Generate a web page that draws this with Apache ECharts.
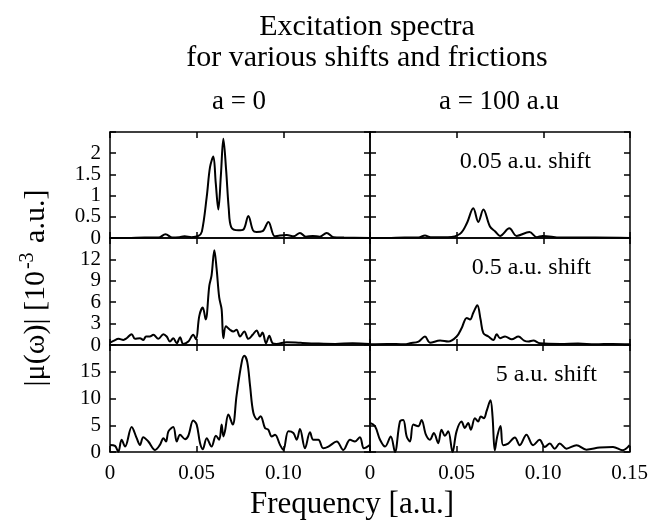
<!DOCTYPE html>
<html>
<head>
<meta charset="utf-8">
<script src="https://cdn.jsdelivr.net/npm/echarts@6/dist/echarts.min.js"></script>
<style>
  html, body { margin: 0; padding: 0; background: #fff; }
  #chart { width: 651px; height: 522px; }
</style>
</head>
<body>
<div id="chart"></div>
<script>
// a = 0, 0.05 a.u. shift
const freqA0S005 = [0, 0.01, 0.02, 0.028, 0.032, 0.036, 0.04, 0.043, 0.047, 0.051, 0.053, 0.0558, 0.0577, 0.0596, 0.061, 0.0625, 0.064, 0.0654, 0.067, 0.0685, 0.070, 0.074, 0.077, 0.0798, 0.0825, 0.0845, 0.088, 0.0914, 0.095, 0.098, 0.102, 0.106, 0.1096, 0.113, 0.117, 0.121, 0.125, 0.129, 0.135, 0.15];
const muA0S005 = [0, 0, 0.01, 0.01, 0.09, 0.01, 0.02, 0.04, 0.02, 0.05, 0.15, 0.97, 1.67, 1.92, 1.3, 0.67, 1.5, 2.34, 1.6, 0.7, 0.25, 0.18, 0.2, 0.52, 0.18, 0.14, 0.16, 0.38, 0.04, 0.06, 0.07, 0.04, 0.12, 0.03, 0.05, 0.03, 0.12, 0.02, 0.01, 0];

// a = 0, 0.5 a.u. shift
const freqA0S05 = [0, 0.002, 0.005, 0.0077, 0.0096, 0.0125, 0.0144, 0.0173, 0.0192, 0.0208, 0.023, 0.025, 0.0279, 0.0308, 0.0327, 0.0346, 0.0365, 0.0385, 0.0404, 0.0423, 0.0452, 0.048, 0.0496, 0.0515, 0.0535, 0.0552, 0.0573, 0.0586, 0.0602, 0.0615, 0.063, 0.0644, 0.0654, 0.0669, 0.0692, 0.0711, 0.073, 0.075, 0.0775, 0.0798, 0.0823, 0.0846, 0.0865, 0.088, 0.09, 0.0919, 0.0938, 0.096, 0.102, 0.11, 0.12, 0.13, 0.14, 0.15];
const muA0S05 = [0.33, 0.57, 0.86, 0.71, 0.95, 1.52, 0.86, 0.95, 0.71, 1.19, 1.19, 1.43, 0.86, 1.52, 1.19, 0.48, 0.95, 0.24, 1.1, 0.14, 0.48, 1.43, 0.8, 4.05, 5.24, 3.57, 8.33, 9.76, 13.3, 10.7, 6.67, 5, 0.95, 2.62, 2.14, 1.9, 2.14, 1.19, 1.9, 0.86, 1.43, 2.05, 1.19, 1.76, 0.24, 1.29, 0.24, 0.14, 0.4, 0.3, 0.2, 0.15, 0.25, 0.15];

// a = 0, 5 a.u. shift
const freqA0S5 = [0, 0.0029, 0.0048, 0.0067, 0.0087, 0.0125, 0.0154, 0.0173, 0.0192, 0.0221, 0.026, 0.0288, 0.0308, 0.0323, 0.0337, 0.0365, 0.0385, 0.0404, 0.0433, 0.0452, 0.048, 0.05, 0.0519, 0.0535, 0.0558, 0.0586, 0.0611, 0.063, 0.0644, 0.0654, 0.0663, 0.0683, 0.0708, 0.073, 0.076, 0.0775, 0.0792, 0.0808, 0.0827, 0.085, 0.0869, 0.0894, 0.0913, 0.0933, 0.0952, 0.0981, 0.1, 0.1029, 0.1058, 0.1077, 0.1096, 0.1125, 0.1154, 0.1173, 0.1202, 0.123, 0.126, 0.1308, 0.1346, 0.1385, 0.1413, 0.1442, 0.1465, 0.15];
const muA0S5 = [1.33, 1.14, 0.06, 2.28, 1.01, 4.68, 2.59, 1.33, 2.78, 1.96, 0.38, 1.33, 2.59, 1.96, 3.86, 4.68, 1.96, 3.23, 2.4, 3.04, 5.88, 5.12, 1.71, 0.51, 2.59, 1.01, 3.04, 2.28, 5.12, 2.91, 3.86, 7.02, 5.12, 10.5, 16.8, 17.97, 16.8, 12.4, 7.34, 6.07, 6.7, 4.5, 4.17, 2.91, 3.23, 1.33, 0.38, 3.86, 3.54, 2.28, 4.3, 0.7, 3.67, 2.28, 2.28, 0.7, 1.01, 1.96, 0.38, 2.28, 1.96, 2.78, 0.7, 1.33];

// a = 100 a.u, 0.05 a.u. shift
const freqA100S005 = [0, 0.01, 0.02, 0.028, 0.0317, 0.035, 0.045, 0.052, 0.0558, 0.0596, 0.0625, 0.0654, 0.0692, 0.0721, 0.075, 0.0804, 0.0846, 0.092, 0.0962, 0.0996, 0.11, 0.13, 0.15];
const muA100S005 = [0, 0, 0.01, 0.01, 0.06, 0.02, 0.02, 0.1, 0.34, 0.7, 0.38, 0.67, 0.27, 0.16, 0.05, 0.23, 0.05, 0.14, 0.02, 0.05, 0.01, 0.01, 0];

// a = 100 a.u, 0.5 a.u. shift
const freqA100S05 = [0, 0.01, 0.02, 0.0231, 0.028, 0.0317, 0.0346, 0.0404, 0.0452, 0.05, 0.0529, 0.0558, 0.0577, 0.0596, 0.0619, 0.0638, 0.0654, 0.0683, 0.0712, 0.0731, 0.075, 0.0779, 0.0818, 0.0856, 0.0889, 0.0914, 0.0942, 0.098, 0.11, 0.12, 0.13, 0.14, 0.15];
const muA100S05 = [0.1, 0.15, 0.1, 0.24, 0.48, 1.19, 0.33, 0.62, 0.48, 1.19, 2.38, 3.8, 3.57, 4.52, 5.57, 3.57, 1.67, 1.19, 0.71, 1.52, 0.95, 1.19, 0.81, 1.19, 0.62, 0.48, 0.62, 0.24, 0.15, 0.2, 0.1, 0.15, 0.1];

// a = 100 a.u, 5 a.u. shift
const freqA100S5 = [0, 0.0029, 0.0058, 0.0087, 0.012, 0.0144, 0.0173, 0.0192, 0.0212, 0.0231, 0.025, 0.0279, 0.0298, 0.0323, 0.0346, 0.0369, 0.0394, 0.0413, 0.0433, 0.0452, 0.0477, 0.05, 0.0529, 0.0548, 0.0567, 0.0583, 0.0606, 0.0625, 0.064, 0.0658, 0.0673, 0.0696, 0.0708, 0.0721, 0.0735, 0.0754, 0.0769, 0.0798, 0.0837, 0.0865, 0.0904, 0.0942, 0.098, 0.101, 0.1039, 0.1067, 0.1096, 0.1135, 0.1193, 0.125, 0.1327, 0.1404, 0.146, 0.15];
const muA100S5 = [5.44, 4.8, 2.28, 1.01, 2.91, 0, 5.69, 6.0, 2.91, 1.96, 5.12, 4.8, 6.0, 3.23, 2.28, 3.54, 1.64, 4.17, 3.04, 3.86, 0, 3.86, 5.69, 4.5, 5.44, 4.17, 6.32, 5.69, 6.64, 6.32, 7.59, 9.68, 6.64, 0.32, 2.91, 4.87, 1.27, 1.58, 2.72, 1.27, 3.23, 1.27, 2.28, 0.95, 1.58, 0.63, 1.58, 0.63, 1.27, 0.44, 0.82, 0.95, 0.32, 1.27];

const xTicks = [0, 0.05, 0.10, 0.15];
const yMax = [2.5, 15, 20];
const yStep = [0.5, 3, 5];
const shiftLabels = ['0.05 a.u. shift', '0.5 a.u. shift', '5 a.u. shift'];
const columnLabels = ['a = 0', 'a = 100 a.u'];

const panels = [
  [freqA0S005, muA0S005], [freqA100S005, muA100S005],
  [freqA0S05, muA0S05], [freqA100S05, muA100S05],
  [freqA0S5, muA0S5], [freqA100S5, muA100S5]
];

const FONT = 'Liberation Serif';
const gridLeft = [110, 370];
const gridTop = [132, 238, 345];
const gridHeight = [106, 107, 107];
const gridWidth = 260;

const lineStyle = { color: '#000', width: 1.5 };
const tickStyle = { inside: true, length: 6, lineStyle: { color: '#000', width: 1.5 } };

const grids = [], xAxes = [], yAxes = [], series = [];

panels.forEach((p, i) => {
  const row = Math.floor(i / 2), col = i % 2;
  grids.push({ left: gridLeft[col], top: gridTop[row], width: gridWidth, height: gridHeight[row] });

  const showX = row === 2;
  ['bottom', 'top'].forEach(pos => {
    xAxes.push({
      type: 'value', gridIndex: i, position: pos, min: 0, max: 0.15, interval: 0.05,
      axisLine: { show: true, onZero: false, lineStyle },
      axisTick: tickStyle,
      splitLine: { show: false },
      axisLabel: {
        show: pos === 'bottom' && showX,
        margin: 11, fontFamily: FONT, fontSize: 21, color: '#000',
        formatter: v => {
          if (col === 0 && v > 0.14) return '';
          const t = xTicks.find(k => Math.abs(k - v) < 1e-6);
          return t === 0 ? '0' : t.toFixed(2);
        }
      }
    });
  });

  ['left', 'right'].forEach(pos => {
    yAxes.push({
      type: 'value', gridIndex: i, position: pos, min: 0, max: yMax[row], interval: yStep[row],
      axisLine: { show: true, onZero: false, lineStyle },
      axisTick: tickStyle,
      splitLine: { show: false },
      axisLabel: {
        show: pos === 'left' && col === 0,
        margin: 9, fontFamily: FONT, fontSize: 21, color: '#000',
        formatter: v => (v >= yMax[row] - 1e-9 ? '' : String(v))
      }
    });
  });

  series.push({
    type: 'line',
    xAxisIndex: 2 * i, yAxisIndex: 2 * i,
    data: p[0].map((x, k) => [x, p[1][k]]),
    showSymbol: false,
    smooth: 0.35,
    lineStyle: { color: '#000', width: 2 },
    silent: true
  });
});

const texts = [
  { x: 367, y: 27, text: 'Excitation spectra', size: 30, align: 'center' },
  { x: 367, y: 58, text: 'for various shifts and frictions', size: 30, align: 'center' },
  { x: 239, y: 102, text: columnLabels[0], size: 27, align: 'center' },
  { x: 499, y: 102, text: columnLabels[1], size: 27, align: 'center' },
  { x: 591, y: 162, text: shiftLabels[0], size: 24, align: 'right' },
  { x: 591, y: 268, text: shiftLabels[1], size: 24, align: 'right' },
  { x: 597, y: 375, text: shiftLabels[2], size: 24, align: 'right' },
  { x: 352, y: 505, text: 'Frequency [a.u.]', size: 31, align: 'center' }
];

const graphics = texts.map(t => ({
  type: 'text', x: t.x, y: t.y,
  style: {
    text: t.text, fontFamily: FONT, fontSize: t.size, fill: '#000',
    textAlign: t.align, textVerticalAlign: 'middle'
  }
}));

graphics.push({
  type: 'text', x: 36, y: 288, rotation: Math.PI / 2,
  style: {
    text: '|μ(ω)| [10{sup|-3} a.u.]',
    fontFamily: FONT, fontSize: 30, fill: '#000',
    textAlign: 'center', textVerticalAlign: 'middle',
    rich: {
      sup: { fontFamily: FONT, fontSize: 20, fill: '#000', padding: [0, 2, 16, 2] }
    }
  }
});

const chart = echarts.init(document.getElementById('chart'));
chart.setOption({
  backgroundColor: '#fff',
  animation: false,
  grid: grids,
  xAxis: xAxes,
  yAxis: yAxes,
  series: series,
  graphic: graphics
});
</script>
</body>
</html>
